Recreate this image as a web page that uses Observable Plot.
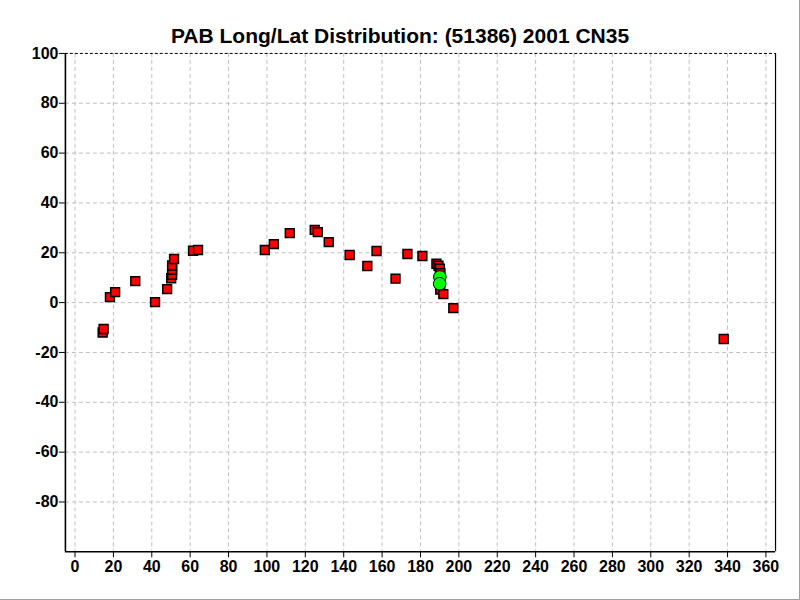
<!DOCTYPE html>
<html>
<head>
<meta charset="utf-8">
<script src="https://cdn.jsdelivr.net/npm/d3@7"></script>
<script src="https://cdn.jsdelivr.net/npm/@observablehq/plot@0.6"></script>
<style>
  html, body { margin: 0; padding: 0; background: #fff; }
  #wrap { position: relative; width: 800px; height: 600px; box-sizing: border-box;
          border-right: 1px solid #a0a0a0; border-bottom: 1px solid #a0a0a0; overflow: hidden; }
  #title { position: absolute; top: 24px; left: 0; width: 800px; text-align: center;
           font: bold 21px "Liberation Sans", Arial, sans-serif; color: #000; }
  #chart { position: absolute; top: 0; left: 0; }
</style>
</head>
<body>
<div id="wrap">
  <div id="chart"></div>
  <div id="title">PAB Long/Lat Distribution: (51386) 2001 CN35</div>
</div>
<script>
// Observed positions (red squares)
const obsLong = [14.4, 14.9, 18.2, 20.9, 31.4, 41.7, 48.0, 50.1, 50.6, 50.6, 50.6, 51.6, 61.5, 64.1,
  98.9, 103.6, 111.9, 124.9, 126.5, 132.2, 143.1, 152.3, 157.1, 167.0, 173.2, 181.0,
  188.3, 189.4, 190.1, 190.4, 190.2, 190.3, 191.9, 197.1, 338.0];
const obsLat = [-12.0, -10.6, 2.2, 4.2, 8.6, 0.2, 5.4, 9.8, 11.2, 13.2, 14.9, 17.5, 20.8, 21.1,
  21.1, 23.5, 27.9, 29.2, 28.3, 24.3, 19.1, 14.7, 20.7, 9.6, 19.5, 18.7,
  15.6, 14.8, 13.6, 11.8, 7.0, 5.2, 3.4, -2.2, -14.6];
// Current positions (green circles)
const curLong = [190.1, 190.0];
const curLat = [10.3, 7.6];

const xTicks = d3.range(0, 361, 20);
const yTicks = [100, 80, 60, 40, 20, 0, -20, -40, -60, -80];
const yGrid = [80, 60, 40, 20, 0, -20, -40, -60, -80];

const obs = obsLong.map((x, i) => ({x, y: obsLat[i]}));
const cur = curLong.map((x, i) => ({x, y: curLat[i]}));

const chart = Plot.plot({
  width: 800,
  height: 600,
  marginLeft: 65,
  marginRight: 24,
  marginTop: 53,
  marginBottom: 48,
  style: { fontFamily: '"Liberation Sans", Arial, sans-serif', background: "transparent" },
  x: { domain: [-5, 365] },
  y: { domain: [-100, 100] },
  marks: [
    Plot.gridX(xTicks, { stroke: "#c0c0c0", strokeOpacity: 1, strokeDasharray: "4,3" }),
    Plot.gridY(yGrid, { stroke: "#c0c0c0", strokeOpacity: 1, strokeDasharray: "4,3" }),
    Plot.ruleY([100], { stroke: "#000", strokeDasharray: "3,2" }),
    Plot.ruleX([365], { stroke: "#000", strokeWidth: 1.2 }),
    Plot.ruleY([-100], { stroke: "#000", strokeWidth: 1.6 }),
    Plot.ruleX([-5], { stroke: "#000", strokeWidth: 1.6 }),
    Plot.axisX(xTicks, { tickSize: 6, tickPadding: 3, fontSize: 16, fontWeight: "bold", label: null, tickFormat: d => String(d) }),
    Plot.axisY(yTicks, { tickSize: 6, tickPadding: 1, fontSize: 16, fontWeight: "bold", label: null, tickFormat: d => String(d) }),
    Plot.dot(obs, { x: "x", y: "y", symbol: "square", r: 5, fill: "#ff0000", stroke: "#000", strokeWidth: 1.5 }),
    Plot.dot(cur, { x: "x", y: "y", r: 6.3, fill: "#00ff00", stroke: "#000", strokeWidth: 1 })
  ]
});
document.getElementById("chart").appendChild(chart);
</script>
</body>
</html>
